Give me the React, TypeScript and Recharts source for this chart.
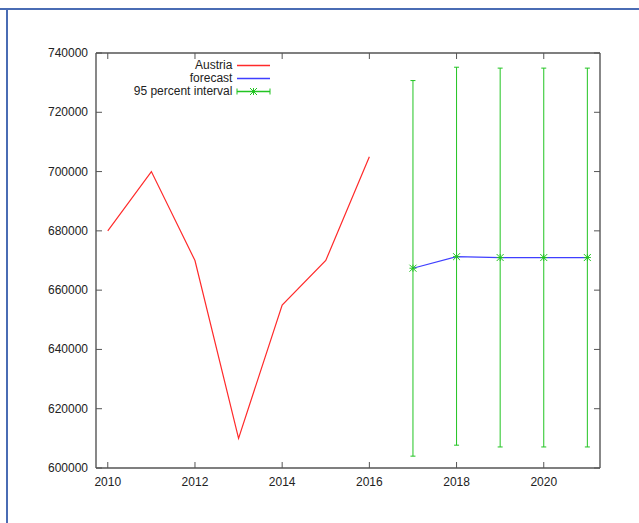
import {
  ComposedChart, Line, XAxis, YAxis, ErrorBar,
} from 'recharts'

const years = [2010, 2011, 2012, 2013, 2014, 2015, 2016]
const austria = [680000, 700000, 670000, 610000, 655000, 670000, 705000]

const forecastYears = [2017, 2018, 2019, 2020, 2021]
const forecast = [667400, 671300, 671000, 671000, 671000]
const lower = [604000, 607700, 607100, 607100, 607100]
const upper = [730700, 735200, 734900, 734900, 734900]

const xTicks = [2010, 2012, 2014, 2016, 2018, 2020]
const yTicks = [600000, 620000, 640000, 660000, 680000, 700000, 720000, 740000]

const AXIS = '#555'
const TEXT = '#222'
const RED = '#ff2a2a'
const BLUE = '#3f3fff'
const GREEN = '#22c422'
const FRAME = '#4a6cb4'
const X_DOMAIN = [2009.73, 2021.29]
const Y_DOMAIN = [600000, 740000]

// plot box in px
const LEFT = 96
const RIGHT = 600
const TOP = 53
const BOTTOM = 468

const data = [
  ...years.map((year, i) => ({ year, austria: austria[i] })),
  ...forecastYears.map((year, i) => ({
    year,
    forecast: forecast[i],
    err: [forecast[i] - lower[i], upper[i] - forecast[i]],
  })),
]

function BottomTick({ x, payload }: any) {
  return (
    <g>
      <line x1={x} y1={BOTTOM} x2={x} y2={BOTTOM - 6} stroke={AXIS} />
      <text x={x} y={BOTTOM + 18} textAnchor="middle" fontSize={12} fill={TEXT}>
        {payload.value}
      </text>
    </g>
  )
}

function TopTick({ x }: any) {
  return <line x1={x} y1={TOP} x2={x} y2={TOP + 6} stroke={AXIS} />
}

function LeftTick({ y, payload }: any) {
  return (
    <g>
      <line x1={LEFT} y1={y} x2={LEFT + 6} y2={y} stroke={AXIS} />
      <text x={LEFT - 8} y={y + 4} textAnchor="end" fontSize={12} fill={TEXT}>
        {payload.value}
      </text>
    </g>
  )
}

function RightTick({ y }: any) {
  return <line x1={RIGHT} y1={y} x2={RIGHT - 6} y2={y} stroke={AXIS} />
}

function Star({ cx, cy }: { cx: number; cy: number }) {
  const r = 3.5
  return (
    <g stroke={GREEN} strokeWidth={1}>
      <line x1={cx - r} y1={cy} x2={cx + r} y2={cy} />
      <line x1={cx} y1={cy - r} x2={cx} y2={cy + r} />
      <line x1={cx - r} y1={cy - r} x2={cx + r} y2={cy + r} />
      <line x1={cx - r} y1={cy + r} x2={cx + r} y2={cy - r} />
    </g>
  )
}

function ForecastDot(props: any) {
  const { cx, cy, index } = props
  if (cx == null || cy == null) return <g key={`d-${index}`} />
  return <Star key={`d-${index}`} cx={cx} cy={cy} />
}

function LegendBox() {
  const rows = [
    { label: 'Austria', color: RED, err: false },
    { label: 'forecast', color: BLUE, err: false },
    { label: '95 percent interval', color: GREEN, err: true },
  ]
  return (
    <div style={{ position: 'absolute', left: 100, top: 59, width: 176 }}>
      {rows.map((r) => (
        <div key={r.label} style={{ display: 'flex', alignItems: 'center', height: 13 }}>
          <span style={{ width: 134, textAlign: 'right', fontSize: 12, color: TEXT, lineHeight: '13px' }}>
            {r.label}
          </span>
          <svg width={40} height={13} style={{ marginLeft: 4 }}>
            <line x1={1} y1={6.5} x2={34} y2={6.5} stroke={r.color} strokeWidth={1.5} />
            {r.err && (
              <g stroke={GREEN}>
                <line x1={1} y1={3.5} x2={1} y2={9.5} />
                <line x1={34} y1={3.5} x2={34} y2={9.5} />
              </g>
            )}
            {r.err && <Star cx={17.5} cy={6.5} />}
          </svg>
        </div>
      ))}
    </div>
  )
}

export default function App() {
  return (
    <div
      style={{
        position: 'absolute', left: 0, top: 0, width: 639, height: 523,
        background: '#fff', fontFamily: '"Liberation Sans", Arial, sans-serif',
      }}
    >
      <div style={{ position: 'absolute', left: 0, top: 8, width: 639, height: 2, background: FRAME }} />
      <div style={{ position: 'absolute', left: 6, top: 8, width: 2, height: 515, background: FRAME }} />
      <div style={{ position: 'absolute', left: 0, top: 0 }}>
        <ComposedChart
          width={639}
          height={523}
          data={data}
          margin={{ top: 52, right: 38, bottom: 30, left: 10 }}
        >
          <XAxis
            dataKey="year"
            type="number"
            domain={X_DOMAIN}
            ticks={xTicks}
            allowDataOverflow
            height={25}
            tickLine={false}
            axisLine={{ stroke: AXIS, strokeWidth: 1.4 }}
            tick={<BottomTick />}
          />
          <XAxis
            xAxisId="top"
            orientation="top"
            dataKey="year"
            type="number"
            domain={X_DOMAIN}
            ticks={xTicks}
            allowDataOverflow
            height={1}
            tickLine={false}
            axisLine={{ stroke: AXIS, strokeWidth: 1.4 }}
            tick={<TopTick />}
          />
          <YAxis
            type="number"
            domain={Y_DOMAIN}
            ticks={yTicks}
            allowDataOverflow
            width={86}
            tickLine={false}
            axisLine={{ stroke: AXIS, strokeWidth: 1.4 }}
            tick={<LeftTick />}
          />
          <YAxis
            yAxisId="right"
            orientation="right"
            type="number"
            domain={Y_DOMAIN}
            ticks={yTicks}
            allowDataOverflow
            width={1}
            tickLine={false}
            axisLine={{ stroke: AXIS, strokeWidth: 1.4 }}
            tick={<RightTick />}
          />
          <Line
            dataKey="austria"
            stroke={RED}
            strokeWidth={1.2}
            dot={false}
            activeDot={false}
            isAnimationActive={false}
          />
          <Line
            dataKey="forecast"
            stroke={BLUE}
            strokeWidth={1.2}
            dot={ForecastDot}
            activeDot={false}
            isAnimationActive={false}
          >
            <ErrorBar dataKey="err" direction="y" width={2.5} stroke={GREEN} strokeWidth={1} />
          </Line>
        </ComposedChart>
      </div>
      <LegendBox />
    </div>
  )
}
